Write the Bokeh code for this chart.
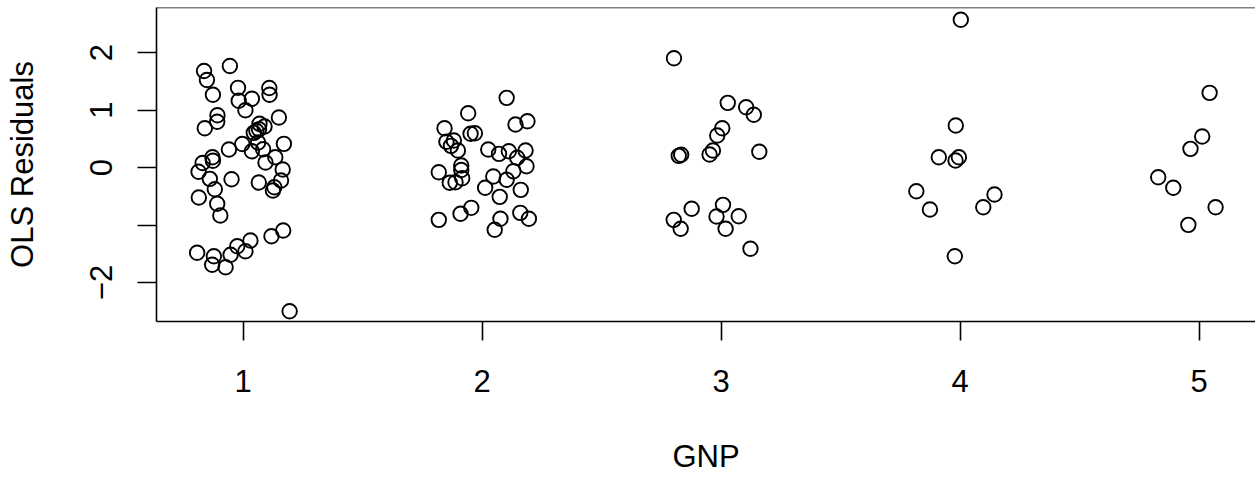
from bokeh.plotting import figure
from bokeh.models import Range1d, FixedTicker, Span
from bokeh.embed import file_html
from bokeh.resources import INLINE

# GNP groups (jittered positions) and OLS residuals
g1_x = [0.837, 0.849, 0.945, 0.874, 0.979, 1.110, 1.111, 0.982, 1.037, 1.010,
        0.893, 0.892, 0.840, 1.150, 1.069, 1.090, 1.067, 1.045, 1.056, 1.171,
        0.997, 0.941, 1.063, 1.084, 1.037, 1.135, 1.094, 0.872, 0.874, 0.831,
        0.814, 0.861, 0.952, 1.166, 1.159, 1.066, 1.131, 1.125, 0.882, 0.815,
        0.892, 0.905, 1.168, 1.119, 1.031, 0.976, 1.010, 0.948, 0.808, 0.878,
        0.871, 0.927, 1.195]
g1_y = [1.678, 1.522, 1.765, 1.266, 1.386, 1.383, 1.266, 1.160, 1.195, 0.997,
        0.910, 0.797, 0.682, 0.870, 0.760, 0.713, 0.666, 0.603, 0.635, 0.412,
        0.409, 0.313, 0.435, 0.318, 0.282, 0.179, 0.087, 0.179, 0.117, 0.078,
        -0.073, -0.197, -0.203, -0.035, -0.226, -0.261, -0.343, -0.400, -0.377, -0.522,
        -0.631, -0.835, -1.096, -1.195, -1.270, -1.369, -1.456, -1.518, -1.483, -1.543,
        -1.692, -1.734, -2.499]

g2_x = [2.103, 1.942, 2.140, 2.190, 1.843, 1.952, 1.970, 1.851, 1.882, 1.870,
        1.899, 2.026, 2.071, 2.112, 2.147, 2.182, 2.186, 1.819, 1.913, 1.913,
        2.131, 2.047, 2.103, 1.917, 1.889, 1.865, 2.013, 2.162, 2.074, 1.819,
        1.910, 1.955, 2.077, 2.053, 2.160, 2.196]
g2_y = [1.212, 0.944, 0.748, 0.805, 0.683, 0.586, 0.597, 0.447, 0.470, 0.377,
        0.296, 0.313, 0.238, 0.283, 0.169, 0.296, 0.023, -0.082, 0.035, -0.043,
        -0.064, -0.157, -0.214, -0.186, -0.256, -0.266, -0.353, -0.388, -0.510, -0.910,
        -0.805, -0.701, -0.892, -1.082, -0.788, -0.892]

g3_x = [2.803, 3.028, 3.105, 3.137, 3.005, 2.984, 2.823, 2.833, 2.966, 2.952,
        3.160, 2.877, 2.802, 2.831, 3.008, 2.981, 3.074, 3.019, 3.123]
g3_y = [1.901, 1.125, 1.049, 0.917, 0.683, 0.557, 0.203, 0.221, 0.296, 0.226,
        0.273, -0.718, -0.910, -1.066, -0.649, -0.852, -0.847, -1.066, -1.414]

g4_x = [4.003, 3.982, 3.911, 3.995, 3.981, 3.817, 4.144, 3.874, 4.097, 3.978]
g4_y = [2.569, 0.730, 0.179, 0.179, 0.122, -0.412, -0.470, -0.730, -0.690, -1.543]

g5_x = [5.044, 5.013, 4.964, 4.829, 4.892, 5.069, 4.955]
g5_y = [1.299, 0.539, 0.325, -0.169, -0.353, -0.690, -0.997]

x_ticks = [1, 2, 3, 4, 5]
y_ticks = [-2, -1, 0, 1, 2]
y_tick_labels = {-2: "\u22122", -1: "", 0: "0", 1: "1", 2: "2"}

FONT = "Liberation Sans"
FS = "31px"
Y_TOP = 2.783

p = figure(width=1255, height=479, output_backend="svg", toolbar_location=None,
           x_range=Range1d(0.638, 5.236), y_range=Range1d(-2.678, Y_TOP),
           min_border_left=156, min_border_right=0, min_border_top=7,
           min_border_bottom=158, background_fill_color="white",
           border_fill_color="white")
p.outline_line_color = None
p.grid.visible = False

all_x = g1_x + g2_x + g3_x + g4_x + g5_x
all_y = g1_y + g2_y + g3_y + g4_y + g5_y
p.scatter(all_x, all_y, marker="circle", size=14.5, fill_color=None,
          line_color="black", line_width=1.9)

for ax in (p.xaxis[0], p.yaxis[0]):
    ax.axis_line_color = "black"
    ax.axis_line_width = 1.6
    ax.major_tick_line_color = "black"
    ax.major_tick_line_width = 1.6
    ax.major_tick_out = 19
    ax.major_tick_in = 0
    ax.minor_tick_line_color = None
    ax.major_label_text_font = FONT
    ax.major_label_text_font_size = FS
    ax.major_label_text_color = "black"
    ax.axis_label_text_font = FONT
    ax.axis_label_text_font_size = FS
    ax.axis_label_text_font_style = "normal"
    ax.axis_label_text_color = "black"

p.xaxis.ticker = FixedTicker(ticks=x_ticks)
p.yaxis.ticker = FixedTicker(ticks=y_ticks)
p.yaxis.major_label_overrides = y_tick_labels
p.yaxis.major_label_orientation = "vertical"
p.xaxis.axis_label = "GNP"
p.yaxis.axis_label = "OLS Residuals"
p.xaxis.major_label_standoff = 29
p.xaxis.axis_label_standoff = 44
p.yaxis.major_label_standoff = 25
p.yaxis.axis_label_standoff = 48

p.add_layout(Span(location=Y_TOP, dimension="width", line_color="black", line_width=1.6))

open("out.html", "w").write(file_html(p, INLINE))
